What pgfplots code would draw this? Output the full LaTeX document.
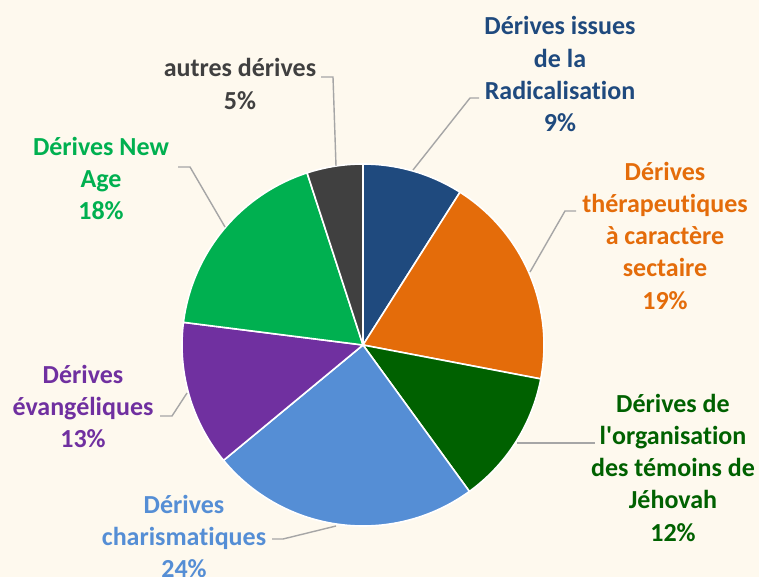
\documentclass[border=0pt]{standalone}
\usepackage{pgfplots}
\pgfplotsset{compat=1.18}
\usepackage{fontspec}
\setmainfont{Carlito}[Ligatures={NoCommon}]
\definecolor{bg}{HTML}{FEF9EE}
\definecolor{cRad}{HTML}{1F4A7E}
\definecolor{cThe}{HTML}{E46C0A}
\definecolor{cJeh}{HTML}{006100}
\definecolor{cCha}{HTML}{558ED5}
\definecolor{cEva}{HTML}{7030A0}
\definecolor{cNew}{HTML}{00B050}
\definecolor{cAut}{HTML}{404040}
\definecolor{lead}{HTML}{A6A6A6}
% #1 = cumulative share before the slice (%), #2 = share (%), #3 = colour
\newcommand{\slice}[3]{%
  \addplot[draw=white, line width=1.6bp, line join=round, fill=#3,
    domain={90-3.6*(#1+#2)}:{90-3.6*(#1)}, samples=90]
    ({363+181*cos(x)},{345-181*sin(x)}) -- (axis cs:363,345) -- cycle;}
\newcommand{\lfont}{\fontsize{26bp}{32.3bp}\selectfont\bfseries}
\newcommand{\lab}[4]{\node[anchor=base, inner sep=0pt, text=#3, font=\lfont]
  at (axis cs:#1,#2) {\begin{tabular}[t]{@{}c@{}}#4\end{tabular}};}
\tikzset{leader/.style={draw=lead, line width=1.4bp}}
\begin{document}
\begin{tikzpicture}
\begin{axis}[name=ax, width=759bp, height=577bp, scale only axis,
  xmin=0, xmax=759, ymin=0, ymax=577, y dir=reverse, hide axis]
\fill[bg] (axis cs:0,0) rectangle (axis cs:759,577);
\slice{0}{9}{cRad}
\slice{9}{19}{cThe}
\slice{28}{12}{cJeh}
\slice{40}{24}{cCha}
\slice{64}{13}{cEva}
\slice{77}{18}{cNew}
\slice{95}{5}{cAut}
% leader lines
\draw[leader] (axis cs:413,170) -- (axis cs:470,98) -- (axis cs:479,98);
\draw[leader] (axis cs:530,272) -- (axis cs:565,211) -- (axis cs:576,211);
\draw[leader] (axis cs:517,443) -- (axis cs:595,443);
\draw[leader] (axis cs:336,526) -- (axis cs:283,539) -- (axis cs:272,539);
\draw[leader] (axis cs:187,393) -- (axis cs:172,416) -- (axis cs:160,416);
\draw[leader] (axis cs:225,227) -- (axis cs:190,167) -- (axis cs:178,167);
\draw[leader] (axis cs:336,166) -- (axis cs:333,77) -- (axis cs:321,77);
% labels
\lab{560}{35}{cRad}{Dérives issues\\de la\\Radicalisation\\9\%}
\lab{665}{180}{cThe}{Dérives\\thérapeutiques\\à caractère\\sectaire\\19\%}
\lab{673}{412}{cJeh}{Dérives de\\l\textquotesingle organisation\\des témoins de\\Jéhovah\\12\%}
\lab{184}{513}{cCha}{Dérives\\charismatiques\\24\%}
\lab{83}{383}{cEva}{Dérives\\évangéliques\\13\%}
\lab{101}{155}{cNew}{Dérives New\\Age\\18\%}
\lab{240}{77}{cAut}{autres dérives\\5\%}
\end{axis}
\pgfresetboundingbox
\path (ax.south west) rectangle (ax.north east);
\end{tikzpicture}
\end{document}
